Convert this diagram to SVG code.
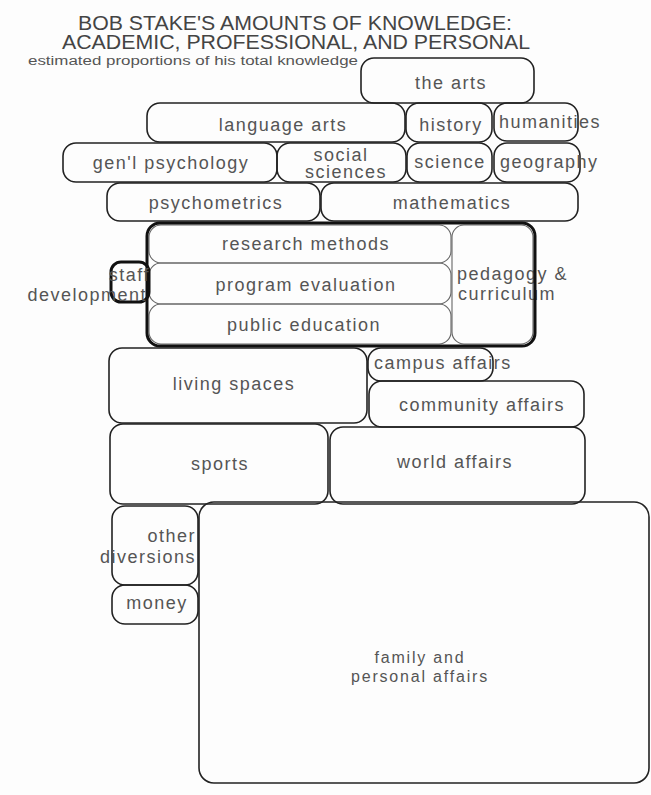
<svg xmlns="http://www.w3.org/2000/svg" width="651" height="795" viewBox="0 0 651 795">
<style>
.b{fill:none;stroke:#222;stroke-width:1.6}
.i{fill:none;stroke:#666;stroke-width:1.1}
.k{fill:none;stroke:#111;stroke-width:3}
.t{font-family:"Liberation Sans",Arial,sans-serif;font-size:18px;fill:#555;letter-spacing:1.5px}
.c{text-anchor:middle}
.r{text-anchor:end}
.h{font-family:"Liberation Sans",Arial,sans-serif;fill:#444;text-anchor:middle}
</style>
<rect width="651" height="795" fill="#fdfdfd"/>
<g id="title">
<text class="h" x="295" y="30" font-size="20" textLength="434" lengthAdjust="spacingAndGlyphs">BOB STAKE'S AMOUNTS OF KNOWLEDGE:</text>
<text class="h" x="296" y="49" font-size="20" textLength="468" lengthAdjust="spacingAndGlyphs">ACADEMIC, PROFESSIONAL, AND PERSONAL</text>
<text x="28" y="65" font-family="Liberation Sans,Arial,sans-serif" font-size="12" fill="#555" textLength="330" lengthAdjust="spacingAndGlyphs">estimated proportions of his total knowledge</text>
</g>
<g id="the-arts"><rect class="b" x="361" y="58" width="173" height="45" rx="13"/><text class="t c" x="451" y="89">the arts</text></g>
<g id="language-arts"><rect class="b" x="147" y="103" width="258" height="39" rx="13"/><text class="t c" x="283" y="131">language arts</text></g>
<g id="history"><rect class="b" x="406" y="103" width="86" height="39" rx="13"/><text class="t c" x="451" y="131">history</text></g>
<g id="humanities"><rect class="b" x="494" y="103" width="84" height="38" rx="13"/><text class="t" x="499" y="128">humanities</text></g>
<g id="genl-psychology"><rect class="b" x="63" y="143" width="214" height="39" rx="13"/><text class="t c" x="171" y="169">gen'l psychology</text></g>
<g id="social-sciences"><rect class="b" x="277" y="143" width="129" height="39" rx="13"/><text class="t c" x="341" y="161">social</text><text class="t c" x="346" y="178">sciences</text></g>
<g id="science"><rect class="b" x="407" y="143" width="85" height="39" rx="13"/><text class="t c" x="450" y="168">science</text></g>
<g id="geography"><rect class="b" x="494" y="143" width="86" height="39" rx="13"/><text class="t" x="500" y="168">geography</text></g>
<g id="psychometrics"><rect class="b" x="107" y="183" width="213" height="38" rx="13"/><text class="t c" x="216" y="209">psychometrics</text></g>
<g id="mathematics"><rect class="b" x="321" y="183" width="257" height="38" rx="13"/><text class="t c" x="452" y="209">mathematics</text></g>
<g id="research-methods"><rect class="i" x="149" y="225" width="302" height="38" rx="12"/><text class="t c" x="306" y="250">research methods</text></g>
<g id="program-evaluation"><rect class="i" x="149" y="263" width="302" height="41" rx="12"/><text class="t c" x="306" y="291">program evaluation</text></g>
<g id="public-education"><rect class="i" x="149" y="304" width="302" height="40" rx="12"/><text class="t c" x="304" y="331">public education</text></g>
<g id="pedagogy-curriculum"><rect class="i" x="452" y="225" width="81" height="119" rx="12"/><text class="t" x="457" y="280">pedagogy &amp;</text><text class="t" x="458" y="300">curriculum</text></g>
<g id="professional"><rect class="k" x="147" y="223" width="388" height="123" rx="13"/></g>
<g id="staff-development"><rect class="k" x="111" y="262" width="38" height="40" rx="10"/><text class="t r" x="150" y="281">staff</text><text class="t r" x="147" y="301">development</text></g>
<g id="living-spaces"><rect class="b" x="109" y="348" width="258" height="75" rx="13"/><text class="t c" x="234" y="390">living spaces</text></g>
<g id="campus-affairs"><rect class="b" x="368" y="348" width="125" height="33" rx="13"/><text class="t" x="374" y="369">campus affairs</text></g>
<g id="community-affairs"><rect class="b" x="369" y="381" width="215" height="46" rx="13"/><text class="t c" x="482" y="411">community affairs</text></g>
<g id="sports"><rect class="b" x="110" y="424" width="218" height="80" rx="13"/><text class="t c" x="220" y="470">sports</text></g>
<g id="world-affairs"><rect class="b" x="330" y="427" width="255" height="77" rx="13"/><text class="t c" x="455" y="468">world affairs</text></g>
<g id="other-diversions"><rect class="b" x="112" y="506" width="86" height="79" rx="13"/><text class="t r" x="196" y="542">other</text><text class="t r" x="196" y="563">diversions</text></g>
<g id="money"><rect class="b" x="112" y="585" width="86" height="39" rx="13"/><text class="t c" x="157" y="609">money</text></g>
<g id="family-personal-affairs"><rect class="b" x="199" y="502" width="450" height="281" rx="15"/><text class="t c" x="420" y="663" style="letter-spacing:1.8px;font-size:16px">family and</text><text class="t c" x="420" y="682" style="letter-spacing:1.8px;font-size:16px">personal affairs</text></g>
</svg>
